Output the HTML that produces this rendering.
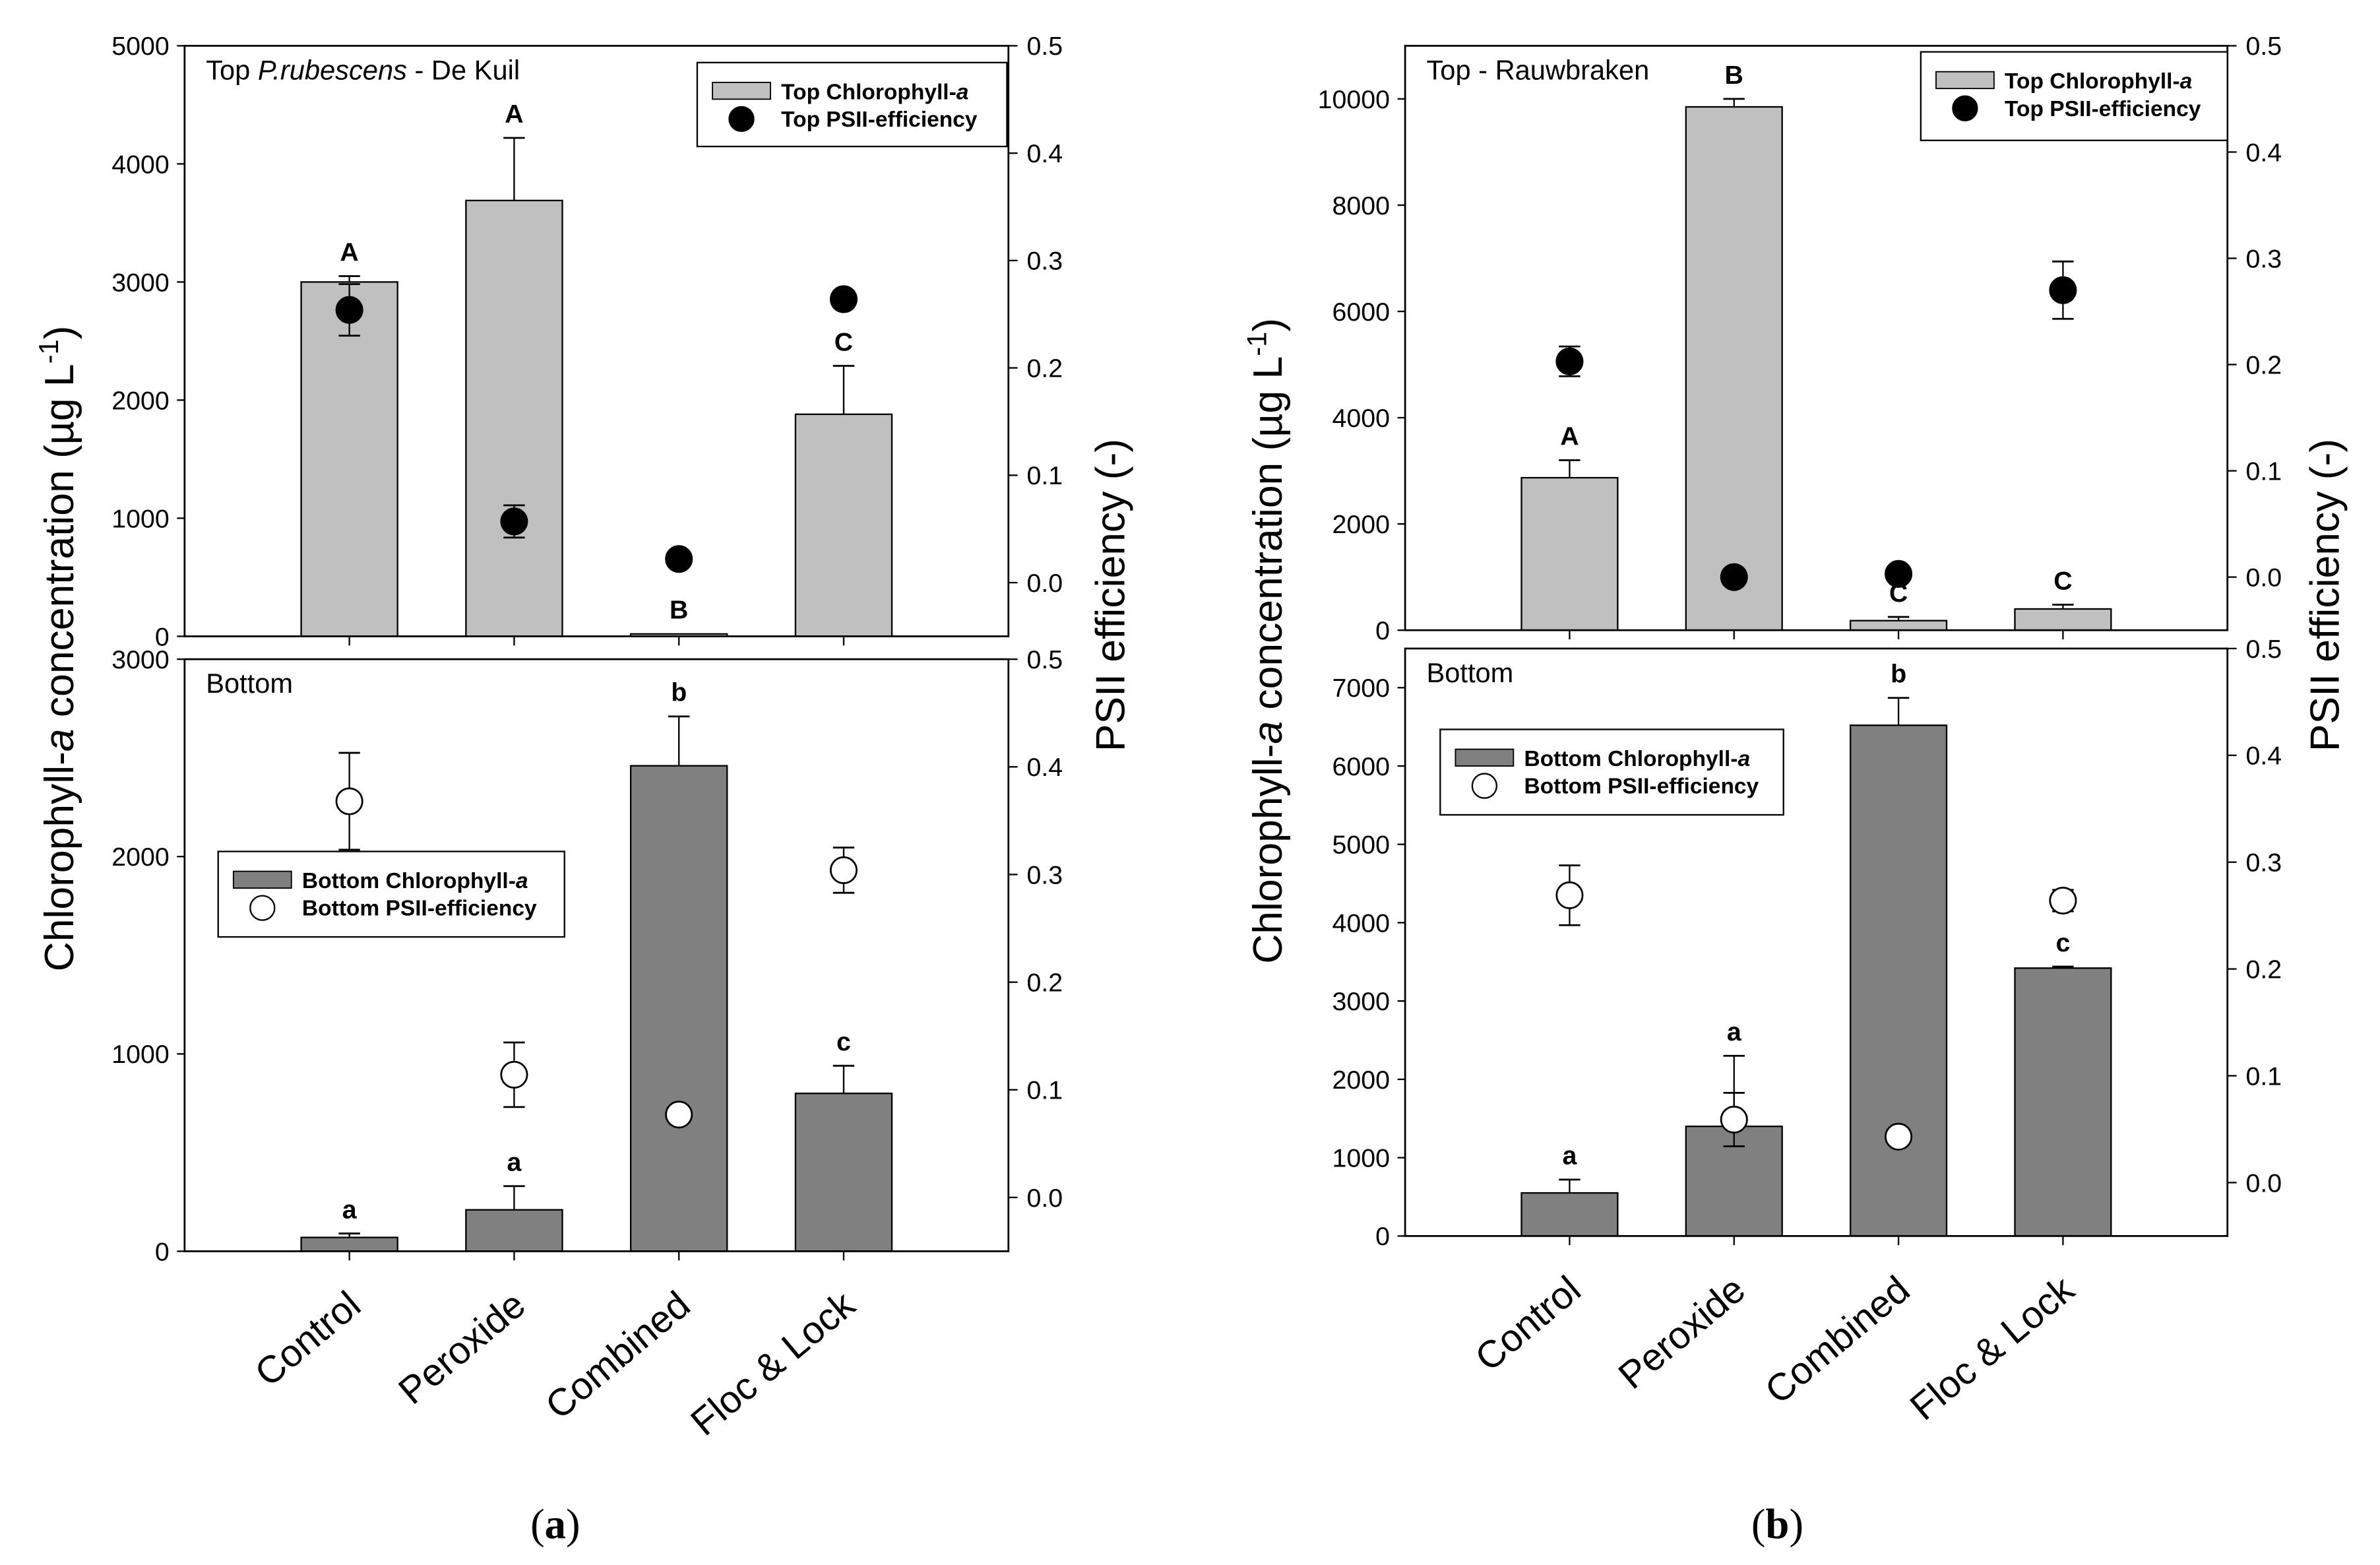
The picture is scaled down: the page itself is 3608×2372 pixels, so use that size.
<!DOCTYPE html>
<html><head><meta charset="utf-8"><style>
html,body{margin:0;padding:0;background:#fff;}
svg{display:block;font-family:"Liberation Sans",Arial,sans-serif;}
</style></head><body>
<svg id="fig" width="3608" height="2372" viewBox="0 0 1560 1025.6" preserveAspectRatio="none" xmlns="http://www.w3.org/2000/svg"></svg>
<script>
const categories = ["Control","Peroxide","Combined","Floc & Lock"];
// Panel a
const aTopChl = [3000, 3690, 20, 1880];
const aTopChlErr = [50, 530, 0, 410];
const aTopPsii = [0.254, 0.057, 0.022, 0.264];
const aTopPsiiErr = [0.024, 0.015, 0, 0.008];
const aTopLetters = ["A","A","B","C"];
const aBotChl = [70, 210, 2460, 800];
const aBotChlErr = [20, 120, 250, 140];
const aBotPsii = [0.368, 0.114, 0.077, 0.304];
const aBotPsiiErr = [0.045, 0.03, 0, 0.021];
const aBotLetters = ["a","a","b","c"];
const aTopTicks = [0,1000,2000,3000,4000,5000];
const aBotTicks = [0,1000,2000,3000];
// Panel b
const bTopChl = [2870, 9850, 180, 400];
const bTopChlErr = [330, 150, 70, 80];
const bTopPsii = [0.203, 0.0, 0.003, 0.27];
const bTopPsiiErr = [0.014, 0, 0, 0.027];
const bTopLetters = ["A","B","C","C"];
const bBotChl = [550, 1400, 6520, 3420];
const bBotChlErr = [170, 900, 350, 20];
const bBotPsii = [0.269, 0.059, 0.043, 0.264];
const bBotPsiiErr = [0.028, 0.025, 0.006, 0.01];
const bBotLetters = ["a","a","b","c"];
const bTopTicks = [0,2000,4000,6000,8000,10000];
const bBotTicks = [0,1000,2000,3000,4000,5000,6000,7000];
const psiiTicks = [0.0,0.1,0.2,0.3,0.4,0.5];

const svg = document.getElementById('fig');
const NS = "http://www.w3.org/2000/svg";
function mk(tag, attrs, parent){const e=document.createElementNS(NS,tag);for(const k in attrs)e.setAttribute(k,attrs[k]);(parent||svg).appendChild(e);return e;}
function txt(s, attrs, parent){const e=mk('text',attrs,parent);e.textContent=s;return e;}

function plot(o){
  const g = mk('g',{});
  
  
  const xs = i => o.L + (o.R-o.L)*(i+1)/5;
  const ys = v => o.B - (o.B-o.T)*v/o.ymax;
  const yr = v => o.B - (o.B-o.T)*(v+0.05)/0.55;
  const bw = (o.R-o.L)/5*0.585;
  o.chl.forEach((v,i)=>{
    const x=xs(i);
    const r=mk('rect',{x:x-bw/2,y:ys(v),width:bw,height:o.B-ys(v),fill:o.fill,stroke:'#000','stroke-width':1},g);
    
    
    const e=o.chlErr[i];
    if(e>0){
      mk('line',{x1:x,x2:x,y1:ys(v),y2:ys(v+e),stroke:'#000','stroke-width':1},g);
      mk('line',{x1:x-7,x2:x+7,y1:ys(v+e),y2:ys(v+e),stroke:'#000','stroke-width':1.2},g);
    }
    const l=txt(o.letters[i],{x:x,y:ys(v+e)-10,'text-anchor':'middle','font-size':17,'font-weight':'bold'},g);
    
    
  });
  o.psii.forEach((v,i)=>{
    const x=xs(i), e=o.psiiErr[i];
    if(e>0){
      mk('line',{x1:x,x2:x,y1:yr(v-e),y2:yr(v+e),stroke:'#000','stroke-width':1},g);
      [v-e,v+e].forEach(w=>mk('line',{x1:x-7,x2:x+7,y1:yr(w),y2:yr(w),stroke:'#000','stroke-width':1.2},g));
    }
    const c=mk('circle',{cx:x,cy:yr(v),r:8.5,fill:o.dot,stroke:'#000','stroke-width':1.2},g);
    
    
  });
  mk('rect',{x:o.L,y:o.T,width:o.R-o.L,height:o.B-o.T,fill:'none',stroke:'#000','stroke-width':1.2},g);
  o.ticks.forEach(t=>{
    mk('line',{x1:o.L-5,x2:o.L,y1:ys(t),y2:ys(t),stroke:'#000'},g);
    const tl=txt(String(t),{x:o.L-10,y:ys(t)+6,'text-anchor':'end','font-size':17},g);
    
    
  });
  psiiTicks.forEach(t=>{
    mk('line',{x1:o.R,x2:o.R+6,y1:yr(t),y2:yr(t),stroke:'#000'},g);
    const tl=txt(t.toFixed(1),{x:o.R+12,y:yr(t)+6,'font-size':17},g);
    
    
  });
  categories.forEach((c,i)=>mk('line',{x1:xs(i),x2:xs(i),y1:o.B,y2:o.B+6,stroke:'#000'},g));
  const tt=mk('text',{x:o.L+14,y:o.T+22,'font-size':18},g);
  
  
  o.title.forEach(p=>{const s=mk('tspan',p.it?{'font-style':'italic'}:{},tt);s.textContent=p.t;});
  const lg=o.leg;
  const lgG=mk('g',{},g);
  
  
  mk('rect',{x:lg.x,y:lg.y,width:lg.w,height:lg.h,fill:'#fff',stroke:'#000','stroke-width':1},lgG);
  mk('rect',{x:lg.x+10,y:lg.y+13,width:38,height:11,fill:o.fill,stroke:'#000','stroke-width':0.8},lgG);
  mk('circle',{cx:lg.x+29,cy:lg.y+37,r:8,fill:o.dot,stroke:'#000'},lgG);
  const t1=mk('text',{x:lg.x+55,y:lg.y+24,'font-size':14.5,'font-weight':'bold'},lgG);
  t1.innerHTML=o.prefix+' Chlorophyll-<tspan font-style="italic">a</tspan>';
  txt(o.prefix+' PSII-efficiency',{x:lg.x+55,y:lg.y+42,'font-size':14.5,'font-weight':'bold'},lgG);
}

function panel(p){
  plot(Object.assign({name:p.id+'-top-plot',short:p.id+'-top',L:p.L,R:p.R,T:p.tT,B:p.tB,ymax:p.tMax,chl:p.tChl,chlErr:p.tChlErr,psii:p.tPsii,psiiErr:p.tPsiiErr,letters:p.tLet,ticks:p.tTicks,fill:'#c0c0c0',dot:'#000',title:p.tTitle,leg:p.tLeg,prefix:'Top'}));
  plot(Object.assign({name:p.id+'-bottom-plot',short:p.id+'-bot',L:p.L,R:p.R,T:p.bT,B:p.bB,ymax:p.bMax,chl:p.bChl,chlErr:p.bChlErr,psii:p.bPsii,psiiErr:p.bPsiiErr,letters:p.bLet,ticks:p.bTicks,fill:'#808080',dot:'#fff',title:[{t:'Bottom'}],leg:p.bLeg,prefix:'Bottom'}));
  categories.forEach((c,i)=>{
    const x=p.L+(p.R-p.L)*(i+1)/5;
    const t=txt(c,{x:x+9,y:p.bB+38,'text-anchor':'end','font-size':25,transform:`rotate(-40 ${x+9} ${p.bB+38})`});
    
    
  });
  const cy=(p.tT+p.bB)/2;
  const yl=mk('text',{x:p.yLx,y:cy,'text-anchor':'middle','font-size':27,transform:`rotate(-90 ${p.yLx} ${cy})`});
  yl.innerHTML='Chlorophyll-<tspan font-style="italic">a</tspan> concentration (µg L<tspan dy="-10" font-size="18">-1</tspan><tspan dy="10">)</tspan>';
  
  
  const cy2=p.y2cy;
  const y2=txt('PSII efficiency (-)',{x:p.y2x,y:cy2,'text-anchor':'middle','font-size':27,transform:`rotate(-90 ${p.y2x} ${cy2})`});
  
  
  const pl=mk('text',{x:p.lblx,y:1008,'text-anchor':'middle','font-size':28,'font-family':'"Liberation Serif",serif'});
  pl.innerHTML='(<tspan font-weight="bold">'+p.id+'</tspan>)';
  
  
}

panel({id:'a',L:121,R:661,tT:30,tB:417,bT:432,bB:820,tMax:5000,bMax:3000,
  tChl:aTopChl,tChlErr:aTopChlErr,tPsii:aTopPsii,tPsiiErr:aTopPsiiErr,tLet:aTopLetters,tTicks:aTopTicks,
  bChl:aBotChl,bChlErr:aBotChlErr,bPsii:aBotPsii,bPsiiErr:aBotPsiiErr,bLet:aBotLetters,bTicks:aBotTicks,
  tTitle:[{t:'Top '},{t:'P.rubescens',it:1},{t:' - De Kuil'}],
  tLeg:{x:457,y:41,w:203,h:55},bLeg:{x:143,y:558,w:227,h:56},yLx:48,y2x:737,y2cy:390,lblx:364});
panel({id:'b',L:921,R:1460,tT:30,tB:413,bT:425,bB:810,tMax:11000,bMax:7500,
  tChl:bTopChl,tChlErr:bTopChlErr,tPsii:bTopPsii,tPsiiErr:bTopPsiiErr,tLet:bTopLetters,tTicks:bTopTicks,
  bChl:bBotChl,bChlErr:bBotChlErr,bPsii:bBotPsii,bPsiiErr:bBotPsiiErr,bLet:bBotLetters,bTicks:bBotTicks,
  tTitle:[{t:'Top - Rauwbraken'}],
  tLeg:{x:1259,y:34,w:201,h:58},bLeg:{x:944,y:478,w:225,h:56},yLx:840,y2x:1533,y2cy:390,lblx:1165});
</script>
</body></html>
